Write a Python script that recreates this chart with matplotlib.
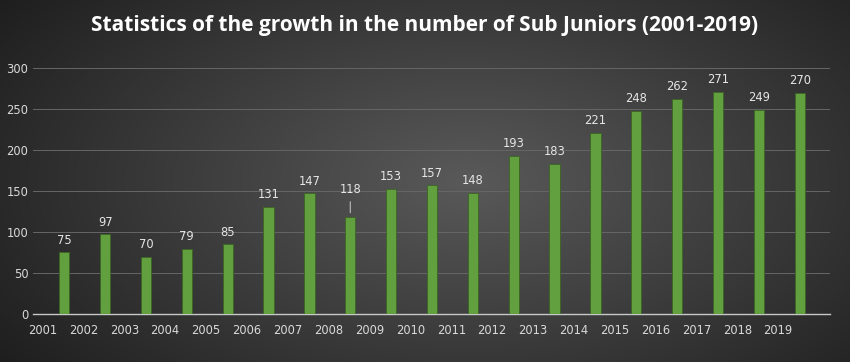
import numpy as np
import matplotlib
matplotlib.use("Agg")
import matplotlib.pyplot as plt

years = [str(y) for y in range(2001, 2020)]
counts = [75, 97, 70, 79, 85, 131, 147, 118, 153, 157, 148, 193, 183, 221, 248, 262, 271, 249, 270]
title = "Statistics of the growth in the number of Sub Juniors (2001-2019)"

fig = plt.figure(figsize=(8.5, 3.62), dpi=100)

# radial-ish dark background
bg = fig.add_axes([0, 0, 1, 1])
yy, xx = np.mgrid[0:1:200j, 0:1:400j]
d = np.sqrt(((xx - 0.55) / 0.7) ** 2 + ((yy - 0.5) / 0.9) ** 2)
shade = np.clip(0.35 - 0.24 * d, 0.10, 0.35)
img = np.dstack([shade, shade, shade])
bg.imshow(img, extent=[0, 1, 0, 1], aspect="auto", origin="lower")
bg.axis("off")

ax = fig.add_axes([0.039, 0.1326, 0.937, 0.6796])
ax.set_facecolor("none")
x = np.arange(len(years))
bars = ax.bar(x, counts, width=0.25, color="#62a03f", edgecolor="#3b6524", linewidth=0.6, zorder=3)

ax.set_xlim(-0.76, 18.73)
ax.set_ylim(0, 300)
ax.set_yticks(range(0, 301, 50))
ax.set_xticks(x - 0.53)
ax.set_xticklabels(years)
ax.tick_params(colors="#d9d9d9", labelsize=8.3, length=0)
ax.tick_params(axis="x", pad=7)
ax.grid(axis="y", color="#666666", linewidth=0.7, zorder=0)
for s in ["top", "right", "left"]:
    ax.spines[s].set_visible(False)
ax.spines["bottom"].set_color("#c8c8c8")
ax.spines["bottom"].set_linewidth(1.0)

for xi, v in zip(x, counts):
    if v == 118:
        ax.annotate(str(v), xy=(xi, v + 2), xytext=(0, 14), textcoords="offset points",
                    ha="center", va="bottom", color="#e6e6e6", fontsize=8.3,
                    arrowprops=dict(arrowstyle="-", color="#cccccc", lw=0.7))
    else:
        ax.text(xi, v + 7, str(v), ha="center", va="bottom", color="#e6e6e6", fontsize=8.3)

fig.text(0.5, 0.93, title, ha="center", va="center", color="white", fontsize=15,
         fontweight="bold", family="Open Sans")

fig.savefig("out.png", dpi=100)
